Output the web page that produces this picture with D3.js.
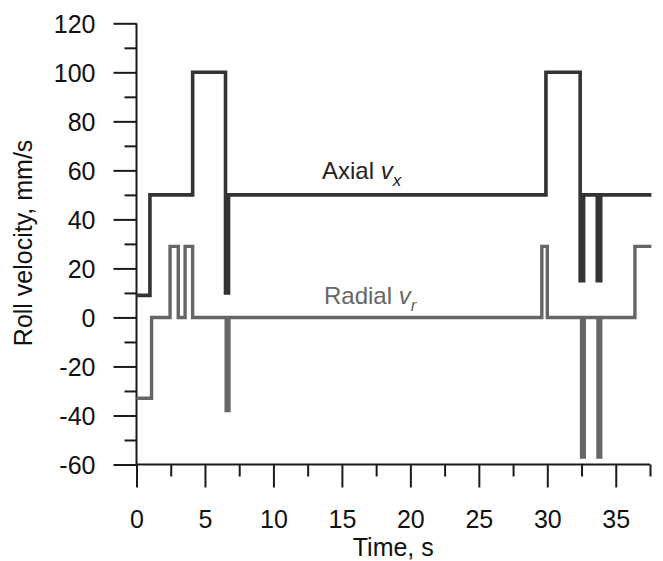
<!DOCTYPE html>
<html>
<head>
  <meta charset="UTF-8" />
  <script src="https://d3js.org/d3.v7.min.js"></script>
  <style>
    body { margin: 0; background: #fff; }
    text { font-family: Arial, "Liberation Sans", sans-serif; }
  </style>
</head>
<body>
  <script>
    // step breakpoints (time in s, velocity in mm/s)
    var axialT = [0, 0.98, 4.1, 6.5, 6.72, 29.9, 32.4, 32.65, 33.65, 33.9, 37.6];
    var axialV = [9, 50, 100, 10, 50, 100, 15, 50, 15, 50, 50];

    var radialT = [0, 1.1, 2.45, 3.05, 3.55, 4.1, 6.55, 6.75, 29.6, 30.0, 32.5, 32.7, 33.7, 33.9, 36.4, 37.6];
    var radialV = [-33, 0, 29, 0, 29, 0, -38, 0, 29, 0, -57, 0, -57, 0, 29, 29];

    var xMajor = [0, 5, 10, 15, 20, 25, 30, 35];
    var xMinor = [2.5, 7.5, 12.5, 17.5, 22.5, 27.5, 32.5, 37.5];
    var yMajor = [120, 100, 80, 60, 40, 20, 0, -20, -40, -60];
    var yMinor = [110, 90, 70, 50, 30, 10, -10, -30, -50];

    var width = 663, height = 561;

    var svg = d3.select("body").append("svg")
      .attr("width", width)
      .attr("height", height);

    var x = d3.scaleLinear().domain([0, 37.5]).range([136.5, 650]);
    var y = d3.scaleLinear().domain([-60, 120]).range([464.5, 23.3]);

    // ****************** axes ***************************
    var yAxisG = svg.append("g")
      .attr("transform", "translate(" + x(0) + ",0)");

    yAxisG.append("g")
      .call(d3.axisLeft(y).tickValues(yMinor).tickSize(12).tickFormat(""))
      .call(function (g) { g.select(".domain").remove(); });

    var yMaj = yAxisG.append("g")
      .call(d3.axisLeft(y).tickValues(yMajor).tickSize(23).tickPadding(18))
      .call(function (g) { g.select(".domain").remove(); });

    yAxisG.selectAll("line").attr("stroke", "#1a1a1a").attr("stroke-width", 2);
    yMaj.selectAll("text")
      .attr("font-size", 25)
      .attr("fill", "#111")
      .attr("dy", "0.35em")
      .text(function (d) { return d < 0 ? "-" + Math.abs(d) : d; });

    var xAxisG = svg.append("g")
      .attr("transform", "translate(0," + y(-60) + ")");

    xAxisG.append("g")
      .call(d3.axisBottom(x).tickValues(xMinor).tickSize(12).tickFormat(""))
      .call(function (g) { g.select(".domain").remove(); });

    var xMaj = xAxisG.append("g")
      .call(d3.axisBottom(x).tickValues(xMajor).tickSize(23).tickPadding(23))
      .call(function (g) { g.select(".domain").remove(); });

    xAxisG.selectAll("line").attr("stroke", "#1a1a1a").attr("stroke-width", 2);
    xMaj.selectAll("text")
      .attr("font-size", 25)
      .attr("fill", "#111");

    // domain lines
    svg.append("line")
      .attr("x1", x(0)).attr("x2", x(0))
      .attr("y1", y(120)).attr("y2", y(-60))
      .attr("stroke", "#1a1a1a").attr("stroke-width", 2);
    svg.append("line")
      .attr("x1", x(0)).attr("x2", x(37.5))
      .attr("y1", y(-60)).attr("y2", y(-60))
      .attr("stroke", "#1a1a1a").attr("stroke-width", 2);

    // axis titles
    svg.append("text")
      .attr("x", (x(0) + x(37.5)) / 2)
      .attr("y", 556)
      .attr("text-anchor", "middle")
      .attr("font-size", 25)
      .attr("fill", "#111")
      .text("Time, s");

    svg.append("text")
      .attr("transform", "translate(32," + ((y(120) + y(-60)) / 2 - 1) + ") rotate(-90)")
      .attr("text-anchor", "middle")
      .attr("font-size", 25)
      .attr("fill", "#111")
      .text("Roll velocity, mm/s");

    // ****************** lines ***************************
    var line = d3.line()
      .x(function (d) { return x(d[0]); })
      .y(function (d) { return y(d[1]); })
      .curve(d3.curveStepAfter);

    var axial = axialT.map(function (t, i) { return [t, axialV[i]]; });
    var radial = radialT.map(function (t, i) { return [t, radialV[i]]; });

    svg.append("path")
      .datum(radial)
      .attr("d", line)
      .attr("fill", "none")
      .attr("stroke", "#666")
      .attr("stroke-width", 3.4);

    svg.append("path")
      .datum(axial)
      .attr("d", line)
      .attr("fill", "none")
      .attr("stroke", "#333")
      .attr("stroke-width", 3.6);

    // ****************** labels ***************************
    function seriesLabel(px, py, name, sub, color) {
      var t = svg.append("text")
        .attr("x", px).attr("y", py)
        .attr("font-size", 24)
        .attr("fill", color);
      t.append("tspan").text(name + " ");
      t.append("tspan").attr("font-style", "italic").text("v");
      t.append("tspan").attr("font-style", "italic")
        .attr("font-size", 17).attr("dy", 7).text(sub);
    }

    seriesLabel(322, 179, "Axial", "x", "#222");
    seriesLabel(324, 304, "Radial", "r", "#666");
  </script>
</body>
</html>
